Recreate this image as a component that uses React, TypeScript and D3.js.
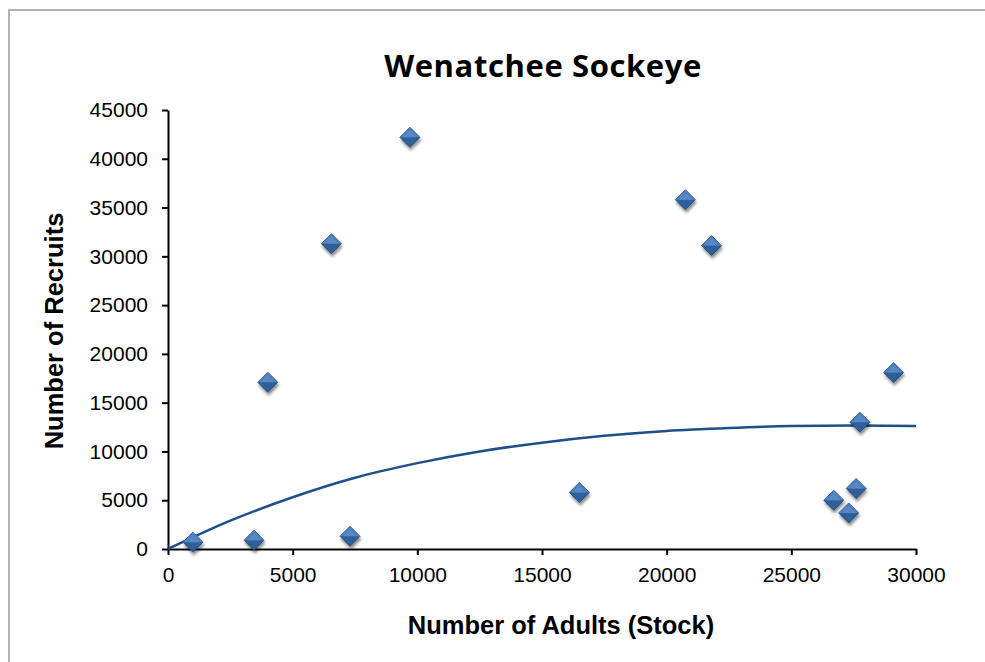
import * as d3 from 'd3';
import { useEffect, useRef } from 'react';

// spawners (stock) and recruits
const stock = [1000, 3450, 4000, 6550, 7300, 9700, 16500, 20750, 21800, 29100, 27750, 26700, 27600, 27300];
const recruits = [700, 900, 17100, 31300, 1300, 42200, 5800, 35800, 31100, 18100, 13000, 5000, 6200, 3700];

// fitted curve
const curveStock = [0, 2500, 5000, 7500, 10000, 12500, 15000, 17500, 20000, 22500, 25000, 27500, 30000];
const curveRecruits = [0, 2900, 5300, 7300, 8800, 10000, 10900, 11600, 12100, 12400, 12600, 12650, 12600];

const xTicks = [0, 5000, 10000, 15000, 20000, 25000, 30000];
const yTicks = [0, 5000, 10000, 15000, 20000, 25000, 30000, 35000, 40000, 45000];

const App = () => {
  const svgRef = useRef<any>();
  const width = 985;
  const height = 662;
  const marginLeft = 168;
  const marginTop = 110;
  const plotWidth = 916 - marginLeft;
  const plotHeight = 549 - marginTop;

  useEffect(() => {
    const svg = d3.select(svgRef.current);
    svg.selectAll('*').remove();

    svg
      .append('rect')
      .attr('x', 9)
      .attr('y', 10)
      .attr('width', width)
      .attr('height', height)
      .attr('fill', '#fff')
      .attr('stroke', '#9a9a9a')
      .attr('stroke-width', 1.5);

    const defs = svg.append('defs');
    const shadow = defs.append('filter').attr('id', 'shadow').attr('x', '-50%').attr('y', '-50%').attr('width', '200%').attr('height', '200%');
    shadow.append('feGaussianBlur').attr('in', 'SourceAlpha').attr('stdDeviation', 1.6);
    shadow.append('feOffset').attr('dx', 1).attr('dy', 2.5).attr('result', 'off');
    shadow.append('feComponentTransfer').append('feFuncA').attr('type', 'linear').attr('slope', 0.45);
    const merge = shadow.append('feMerge');
    merge.append('feMergeNode');
    merge.append('feMergeNode').attr('in', 'SourceGraphic');

    svg
      .append('text')
      .attr('x', 543)
      .attr('y', 77)
      .attr('text-anchor', 'middle')
      .attr('font-family', 'Open Sans, sans-serif')
      .attr('font-weight', 'bold')
      .attr('font-size', 31)
      .attr('letter-spacing', 0.6)
      .text('Wenatchee Sockeye');

    const x = d3.scaleLinear().domain([0, 30000]).range([0, plotWidth]);
    const y = d3.scaleLinear().domain([0, 45000]).range([plotHeight, 0]);

    const g = svg.append('g').attr('transform', `translate(${marginLeft},${marginTop})`);

    const yAxis = g
      .append('g')
      .call(d3.axisLeft(y).tickValues(yTicks).tickFormat(d3.format('d')).tickSize(6).tickSizeOuter(0));
    const xAxis = g
      .append('g')
      .attr('transform', `translate(0,${plotHeight})`)
      .call(d3.axisBottom(x).tickValues(xTicks).tickFormat(d3.format('d')).tickSize(6).tickSizeOuter(0));

    [xAxis, yAxis].forEach((a) => {
      a.select('.domain').attr('stroke', '#000').attr('stroke-width', 2);
      a.selectAll('.tick line').attr('stroke', '#000').attr('stroke-width', 2);
      a.selectAll('.tick text')
        .attr('font-family', 'Liberation Sans, Arial, sans-serif')
        .attr('font-size', 21)
        .attr('fill', '#000');
    });
    yAxis.selectAll('.tick text').attr('x', -20);
    xAxis.selectAll('.tick text').attr('y', 18);

    const line = d3
      .line<number>()
      .x((d) => x(curveStock[d]))
      .y((d) => y(curveRecruits[d]))
      .curve(d3.curveMonotoneX);
    g.append('path')
      .datum(curveStock.map((_, i) => i))
      .attr('d', line)
      .attr('fill', 'none')
      .attr('stroke', '#1f4e8a')
      .attr('stroke-width', 2.5);

    const r = 10;
    const pts = g
      .selectAll('g.pt')
      .data(stock.map((s, i) => [s, recruits[i]]))
      .enter()
      .append('g')
      .attr('class', 'pt')
      .attr('filter', 'url(#shadow)')
      .attr('transform', (d) => `translate(${x(d[0])},${y(d[1])})`);
    pts.append('path').attr('d', `M0,${-r}L${r},0L0,${r}L${-r},0Z`).attr('fill', '#2d5f98').attr('stroke', '#1d4472').attr('stroke-width', 0.8);
    pts.append('path').attr('d', `M0,${-r}L${r},0L${-r},0Z`).attr('fill', '#4f7fbe');
    pts.append('path').attr('d', `M0,${-r + 3}L${r - 3},0L${-r + 3},0Z`).attr('fill', '#5d8ccb').attr('opacity', 0.7);

    svg
      .append('text')
      .attr('x', 561)
      .attr('y', 634)
      .attr('text-anchor', 'middle')
      .attr('font-family', 'Liberation Sans, Arial, sans-serif')
      .attr('font-weight', 'bold')
      .attr('font-size', 25.5)
      .text('Number of Adults (Stock)');

    svg
      .append('text')
      .attr('transform', 'translate(63,331) rotate(-90)')
      .attr('text-anchor', 'middle')
      .attr('font-family', 'Liberation Sans, Arial, sans-serif')
      .attr('font-weight', 'bold')
      .attr('font-size', 25.5)
      .text('Number of Recruits');
  }, []);

  return (
    <div style={{ position: 'fixed', left: 0, top: 0 }}>
      <svg ref={svgRef} width={width} height={height} style={{ display: 'block' }} />
    </div>
  );
};

export default App;
